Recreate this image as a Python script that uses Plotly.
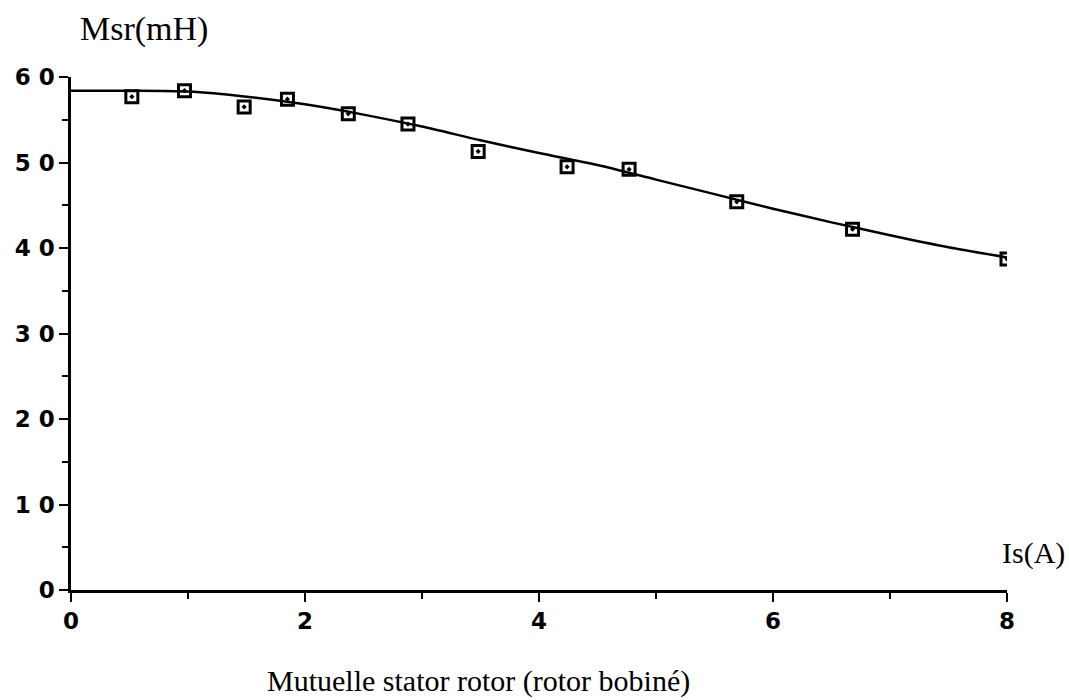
import plotly.graph_objects as go

# measured points
is_a = [0.52, 0.97, 1.48, 1.85, 2.37, 2.88, 3.48, 4.24, 4.77, 5.69, 6.68, 8.00]
msr_mh = [57.7, 58.4, 56.5, 57.4, 55.7, 54.5, 51.3, 49.5, 49.2, 45.4, 42.2, 38.7]

# fitted curve
fit_x = [0, 0.5, 1, 1.5, 2, 2.5, 3, 3.5, 4, 4.5, 5, 5.5, 6, 6.5, 7, 7.5, 8]
fit_y = [58.4, 58.4, 58.3, 57.7, 56.8, 55.6, 54.2, 52.6, 51.1, 49.7, 48.0, 46.3, 44.6, 43.0, 41.5, 40.1, 38.9]

x_ticks = [0, 2, 4, 6, 8]
x_ticktext = ["0", "2", "4", "6", "8"]
y_ticks = [0, 10, 20, 30, 40, 50, 60]
y_ticktext = ["0", "1\u00a00", "2\u00a00", "3\u00a00", "4\u00a00", "5\u00a00", "6\u00a00"]

fig = go.Figure()
fig.add_trace(go.Scatter(x=fit_x, y=fit_y, mode="lines",
                         line=dict(color="black", width=2.5, shape="spline", smoothing=0.8),
                         showlegend=False, hoverinfo="skip"))
fig.add_trace(go.Scatter(x=is_a, y=msr_mh, mode="markers",
                         marker=dict(symbol="square-open-dot", size=12, color="black",
                                     line=dict(color="black", width=3)),
                         showlegend=False))

tickfont = dict(family="DejaVu Sans", size=23, color="black", weight="bold")

fig.update_layout(
    width=1069, height=700,
    margin=dict(l=71, r=62, t=77, b=110),
    paper_bgcolor="white", plot_bgcolor="white",
    xaxis=dict(range=[0, 8], showgrid=False, zeroline=False, showline=True,
               linecolor="black", linewidth=2.5, ticks="outside", ticklen=9,
               tickwidth=2, tickcolor="black", tickvals=x_ticks, ticktext=x_ticktext,
               tickfont=tickfont,
               minor=dict(tickvals=[1, 3, 5, 7], ticks="outside", ticklen=6,
                          tickwidth=2, tickcolor="black", showgrid=False)),
    yaxis=dict(range=[0, 60], showgrid=False, zeroline=False, showline=True,
               linecolor="black", linewidth=2.5, ticks="outside", ticklen=9,
               tickwidth=2, tickcolor="black", tickvals=y_ticks, ticktext=y_ticktext,
               tickfont=tickfont,
               minor=dict(tickvals=[5, 15, 25, 35, 45, 55], ticks="outside", ticklen=6,
                          tickwidth=2, tickcolor="black", showgrid=False)),
    annotations=[
        dict(text="Msr(mH)", xref="paper", yref="paper", x=(78 - 71) / 936, y=1 + (77 - 50) / 513,
             xanchor="left", yanchor="bottom", showarrow=False,
             font=dict(family="Liberation Serif", size=34, color="black")),
        dict(text="Is(A)", xref="paper", yref="paper", x=(1000 - 71) / 936, y=18 / 513,
             xanchor="left", yanchor="bottom", showarrow=False,
             font=dict(family="Liberation Serif", size=30, color="black")),
        dict(text="Mutuelle stator rotor (rotor bobiné)", xref="paper", yref="paper",
             x=(478 - 71) / 936, y=-(662 - 590) / 513, xanchor="center", yanchor="top",
             showarrow=False, font=dict(family="Liberation Serif", size=30, color="black")),
    ],
)

fig.write_html("out.html")
